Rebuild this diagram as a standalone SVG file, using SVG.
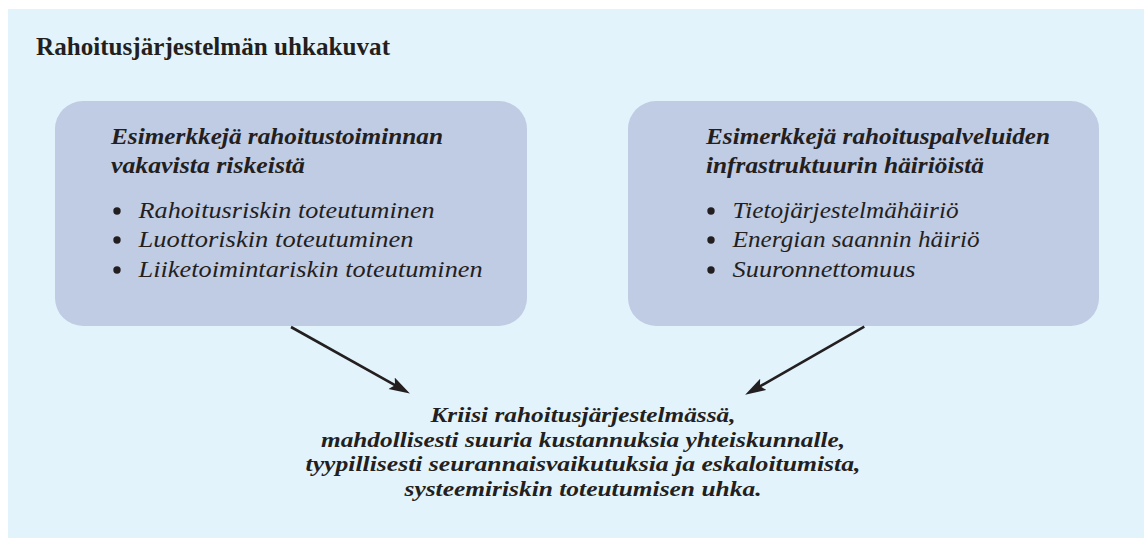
<svg xmlns="http://www.w3.org/2000/svg" width="1144" height="538" viewBox="0 0 1144 538">
<defs>
<style>
.t{font-family:"Liberation Serif","Times New Roman",serif;fill:#231F20}
.h{font-size:25px;font-weight:bold}
.bt{font-size:24px;font-weight:bold;font-style:italic}
.it{font-size:24px;font-style:italic}
.ct{font-size:22px;font-weight:bold;font-style:italic;text-anchor:middle}
.dot{fill:#231F20}
.box{fill:#C0CBE4}
.conn{stroke:#231F20;stroke-width:2.6;fill:none;marker-end:url(#ah)}
</style>
<marker id="ah" markerUnits="userSpaceOnUse" markerWidth="22" markerHeight="14" refX="10" refY="6.5" orient="auto">
<path d="M0,0 L21,6.5 L0,13 L4,6.5 z" fill="#231F20"/>
</marker>
</defs>
<rect x="8" y="9" width="1136" height="529" fill="#E3F3FB"/>
<text class="t h" x="36" y="55" textLength="354" lengthAdjust="spacingAndGlyphs">Rahoitusjärjestelmän uhkakuvat</text>
<g id="node-left">
<rect class="box" x="55" y="101" width="472" height="225" rx="28" ry="28"/>
<text class="t bt" x="111" y="144" textLength="332" lengthAdjust="spacingAndGlyphs">Esimerkkejä rahoitustoiminnan</text>
<text class="t bt" x="111" y="173" textLength="194" lengthAdjust="spacingAndGlyphs">vakavista riskeistä</text>
<circle class="dot" cx="117" cy="211" r="3.7"/>
<circle class="dot" cx="117" cy="240" r="3.7"/>
<circle class="dot" cx="117" cy="270" r="3.7"/>
<text class="t it" x="138.6" y="218" textLength="296" lengthAdjust="spacingAndGlyphs">Rahoitusriskin toteutuminen</text>
<text class="t it" x="138.6" y="247" textLength="275" lengthAdjust="spacingAndGlyphs">Luottoriskin toteutuminen</text>
<text class="t it" x="138.6" y="277" textLength="344" lengthAdjust="spacingAndGlyphs">Liiketoimintariskin toteutuminen</text>
</g>
<g id="node-right">
<rect class="box" x="628" y="101" width="471" height="225" rx="28" ry="28"/>
<text class="t bt" x="706" y="144" textLength="344" lengthAdjust="spacingAndGlyphs">Esimerkkejä rahoituspalveluiden</text>
<text class="t bt" x="706" y="173" textLength="278" lengthAdjust="spacingAndGlyphs">infrastruktuurin häiriöistä</text>
<circle class="dot" cx="711" cy="211" r="3.7"/>
<circle class="dot" cx="711" cy="240" r="3.7"/>
<circle class="dot" cx="711" cy="270" r="3.7"/>
<text class="t it" x="732.6" y="218" textLength="226" lengthAdjust="spacingAndGlyphs">Tietojärjestelmähäiriö</text>
<text class="t it" x="732.6" y="247" textLength="247" lengthAdjust="spacingAndGlyphs">Energian saannin häiriö</text>
<text class="t it" x="732.6" y="277" textLength="183" lengthAdjust="spacingAndGlyphs">Suuronnettomuus</text>
</g>
<g id="node-bottom">
<text class="t ct" x="583" y="422" textLength="305" lengthAdjust="spacingAndGlyphs">Kriisi rahoitusjärjestelmässä,</text>
<text class="t ct" x="583" y="446.7" textLength="524" lengthAdjust="spacingAndGlyphs">mahdollisesti suuria kustannuksia yhteiskunnalle,</text>
<text class="t ct" x="583" y="471" textLength="555" lengthAdjust="spacingAndGlyphs">tyypillisesti seurannaisvaikutuksia ja eskaloitumista,</text>
<text class="t ct" x="583" y="496" textLength="357" lengthAdjust="spacingAndGlyphs">systeemiriskin toteutumisen uhka.</text>
</g>
<g id="connectors">
<line class="conn" x1="291" y1="327" x2="400.3" y2="388.1"/>
<line class="conn" x1="864.3" y1="326.7" x2="754.7" y2="389.3"/>
</g>
</svg>
